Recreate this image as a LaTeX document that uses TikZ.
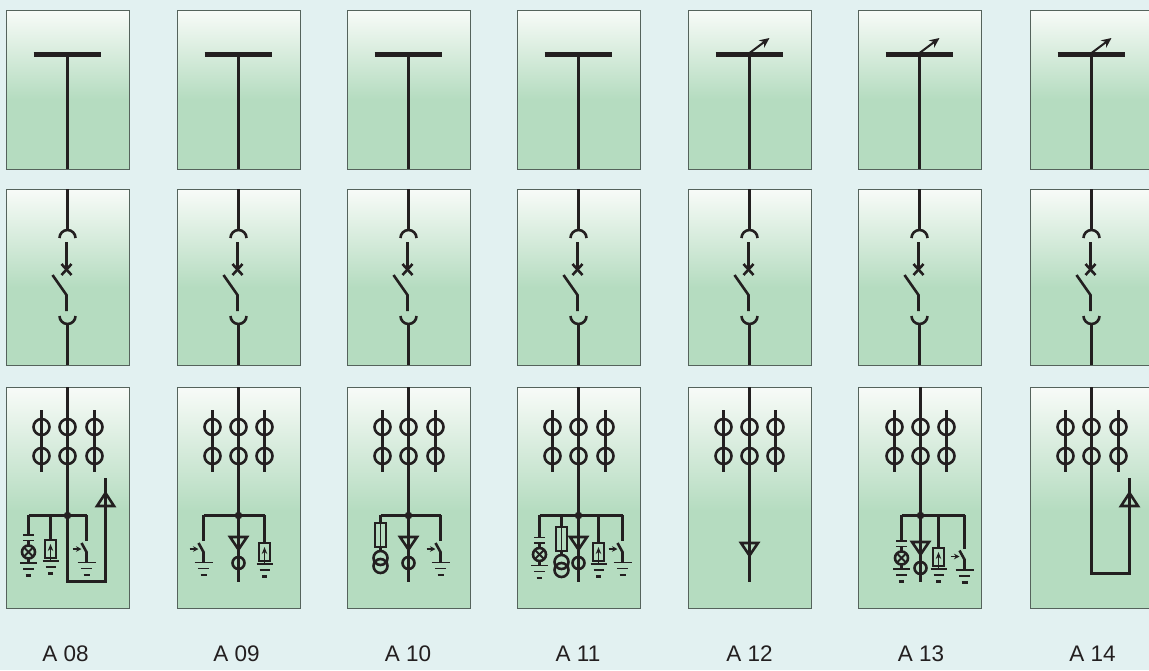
\documentclass[tikz,border=0pt]{standalone}
\usepackage{fontspec}
\setmainfont{Liberation Sans}
\usetikzlibrary{arrows.meta}
\definecolor{pagebg}{HTML}{E2F1F1}
\definecolor{panelbot}{HTML}{B5DCC0}
\definecolor{paneltop}{HTML}{F8FBF8}
\definecolor{ink}{HTML}{231F20}
\definecolor{frame}{HTML}{55635C}
\pgfdeclareverticalshading{panelshade}{100bp}{color(0bp)=(panelbot); color(47bp)=(panelbot); color(75bp)=(paneltop); color(100bp)=(paneltop)}
\tikzset{
  panel/.style={draw=frame,line width=1pt,shading=panelshade,shading angle=0},
  wire/.style={draw=ink,line width=2.6pt},
  thin wire/.style={draw=ink,line width=1.95pt},
  busbar/.style={draw=ink,line width=5.5pt},
  tag/.style={font=\fontsize{22.5}{25}\selectfont,text=ink,inner sep=0pt},
  joint/.style={fill=ink,draw=none},
  tip/.style={-{Stealth[length=5.5pt,width=5.5pt]},draw=ink,line width=1.6pt}
}
% row one: bar and feeder
\newcommand{\barcell}[1]{%
  \draw[busbar] (#1-34,54.5) -- (#1+33,54.5);
  \draw[wire] (#1,54) -- (#1,169);}
\newcommand{\meterarrow}[1]{%
  \draw[-{Stealth[length=10pt,width=9pt]},draw=ink,line width=2pt] (#1,53) -- (#1+20,38);}
% row two: withdrawable breaker
\newcommand{\breaker}[1]{%
  \draw[wire] (#1,189) -- (#1,230);
  \draw[wire] (#1-8,238) arc[start angle=180,end angle=360,radius=8];
  \draw[wire] (#1-1,242) -- (#1-1,270);
  \draw[wire] (#1-6,264) -- (#1+4,275) (#1-6,275) -- (#1+4,264);
  \draw[wire] (#1-15,275) -- (#1-1,295) -- (#1-1,311);
  \draw[wire] (#1-8,316) arc[start angle=180,end angle=0,radius=8];
  \draw[wire] (#1,324) -- (#1,365);}
% row three: disconnect fuses on three phases
\newcommand{\fuses}[4]{%
  \draw[wire] (#2,387) -- (#2,#4);
  \foreach \xx in {#1,#2,#3}{
    \draw[wire] (\xx,427) circle[radius=8];
    \draw[wire] (\xx,456) circle[radius=8];}
  \draw[wire] (#1,410) -- (#1,472) (#3,410) -- (#3,472);}
\newcommand{\gnd}[5]{% x, y, half widths of the three strokes
  \draw[thin wire] (#1-#3,#2) -- (#1+#3,#2);
  \draw[thin wire] (#1-#4,#2+6) -- (#1+#4,#2+6);
  \draw[wire] (#1-#5,#2+12.5) -- (#1+#5,#2+12.5);}
\newcommand{\bus}[3]{%
  \draw[wire] (#1,515.5) -- (#3,515.5);
  \fill[joint] (#2,515.5) circle[radius=3.8];}
\newcommand{\swbranch}[2]{%
  \draw[wire] (#1,515) -- (#1,#2);
  \draw[wire] (#1-5,#2+2) -- (#1,#2+11) -- (#1,#2+21);
  \draw[tip] (#1-14,#2+8) -- (#1-5,#2+8);
  \gnd{#1}{#2+21.5}{9}{5.5}{3}}
\newcommand{\lampbranch}[2]{%
  \draw[wire] (#1,515) -- (#1,#2);
  \draw[thin wire] (#1-5.5,#2) -- (#1+5.5,#2) (#1-5.5,#2+5.5) -- (#1+5.5,#2+5.5);
  \draw[wire] (#1,#2+5.5) -- (#1,#2+10.5);
  \draw[wire] (#1,#2+17) circle[radius=6.5];
  \draw[thin wire] (#1-4.6,#2+12.4) -- (#1+4.6,#2+21.6) (#1-4.6,#2+21.6) -- (#1+4.6,#2+12.4);
  \draw[wire] (#1,#2+23.5) -- (#1,#2+28);
  \gnd{#1}{#2+28}{8.5}{5.5}{2.8}}
\newcommand{\boxbranch}[2]{%
  \draw[wire] (#1,515) -- (#1,#2);
  \draw[thin wire] (#1-5.7,#2) rectangle (#1+5.7,#2+18);
  \draw[-{Stealth[length=7pt,width=5.5pt]},draw=ink,line width=1.8pt] (#1,#2+21) -- (#1,#2+4);
  \gnd{#1}{#2+21}{8}{5}{2.5}}
\newcommand{\vtbranch}[2]{%
  \draw[wire] (#1,515) -- (#1,#2);
  \draw[thin wire] (#1-5.3,#2) rectangle (#1+5.3,#2+24);
  \draw[thin wire] (#1,#2) -- (#1,#2+24);
  \draw[wire] (#1,#2+24) -- (#1,#2+28);
  \draw[wire] (#1,#2+35) circle[radius=7];
  \draw[wire] (#1,#2+43) circle[radius=7];}
\newcommand{\downtri}[2]{% centre, top
  \draw[wire,line join=miter] (#1-8.5,#2) -- (#1+8.5,#2) -- (#1,#2+12.5) -- cycle;}
\newcommand{\uptri}[1]{%
  \draw[wire,line join=miter] (#1-8.5,506) -- (#1+8.5,506) -- (#1,493) -- cycle;}
\newcommand{\ctbranch}[2]{% centre, triangle top
  \downtri{#1}{#2}
  \draw[wire] (#1,#2+26) circle[radius=6];
  \draw[wire] (#1,515) -- (#1,582);}
\begin{document}
\begin{tikzpicture}[x=1pt,y=-1pt]
\useasboundingbox (0,0) rectangle (1149,670);
\fill[pagebg] (0,0) rectangle (1149,670);
% panels
\foreach \px in {6,177,347.5,517.5,688,858.5,1030}{
  \path[panel] (\px,10) rectangle (\px+123,169);
  \path[panel] (\px,189) rectangle (\px+123,365);
  \path[panel] (\px,387) rectangle (\px+123,608);
}
% rows one and two
\foreach \cx in {67.5,238.5,408.5,578.5,749.5,919.5,1091.5}{
  \barcell{\cx}
  \breaker{\cx}
}
\foreach \cx in {749.5,919.5,1091.5}{\meterarrow{\cx}}
% A 08
\fuses{41.5}{67.5}{94.5}{515}
\bus{28.5}{67.5}{86.5}
\lampbranch{28.5}{535}
\boxbranch{50.5}{540}
\swbranch{86.5}{541}
\draw[wire,line join=miter] (67.5,515) -- (67.5,581.5) -- (105.5,581.5) -- (105.5,478);
\uptri{105.5}
% A 09
\fuses{212.5}{238.5}{264.5}{515}
\bus{203.5}{238.5}{264.5}
\swbranch{203.5}{541}
\ctbranch{238.5}{537}
\boxbranch{264.5}{543}
% A 10
\fuses{382.5}{408.5}{435.5}{515}
\bus{380.5}{408.5}{440.5}
\vtbranch{380.5}{523}
\ctbranch{408.5}{537}
\swbranch{440.5}{541}
% A 11
\fuses{552.5}{578.5}{605.5}{515}
\bus{539.5}{578.5}{622.5}
\lampbranch{539.5}{537.5}
\vtbranch{561.5}{527}
\ctbranch{578.5}{537}
\boxbranch{598.5}{543}
\swbranch{622.5}{541}
% A 12
\fuses{723.5}{749.5}{775.5}{543}
\downtri{749.5}{543}
\draw[wire] (749.5,543) -- (749.5,582);
% A 13
\fuses{894.5}{920.5}{946.5}{515}
\bus{901.5}{920.5}{964.5}
\lampbranch{901.5}{541}
\ctbranch{920.5}{542}
\boxbranch{938.5}{548}
\swbranch{964.5}{548.5}
% A 14
\fuses{1065.5}{1091.5}{1118.5}{515}
\draw[wire,line join=miter] (1091.5,515) -- (1091.5,573.5) -- (1129.5,573.5) -- (1129.5,478);
\uptri{1129.5}
% labels
\node[tag] (a08) at (65.5,654) {A 08};
\node[tag] (a09) at (236.5,654) {A 09};
\node[tag] (a10) at (408,654) {A 10};
\node[tag] (a11) at (578,654) {A 11};
\node[tag] (a12) at (749.5,654) {A 12};
\node[tag] (a13) at (921,654) {A 13};
\node[tag] (a14) at (1092.5,654) {A 14};
\end{tikzpicture}
\end{document}
